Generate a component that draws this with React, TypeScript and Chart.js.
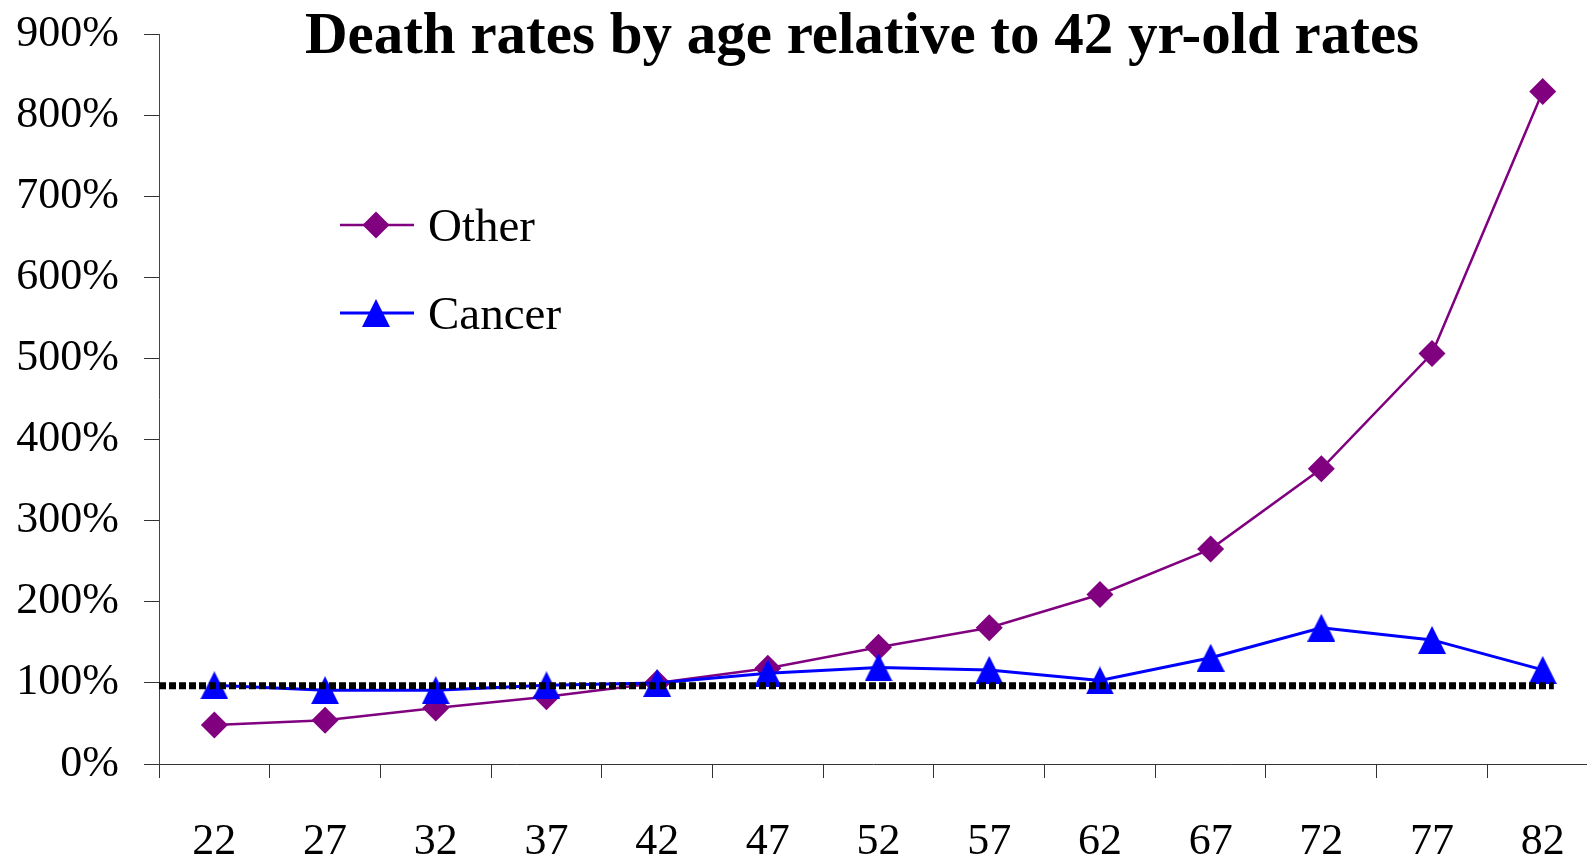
import React, { useEffect, useRef } from "react";
import { Chart, registerables } from "chart.js";

Chart.register(...registerables);

// ---- data ----
const ages = [22, 27, 32, 37, 42, 47, 52, 57, 62, 67, 72, 77, 82];
const otherRates = [48, 54, 69, 83, 100, 118, 144, 168, 209, 265, 364, 506, 829];
const cancerRates = [97, 91, 91, 97, 100, 112, 119, 116, 103, 131, 168, 153, 116];
const referenceLevel = 96.5;
const referenceSpan = [19.5, 82.5];
const yTickValues = [0, 100, 200, 300, 400, 500, 600, 700, 800, 900];
const seriesNames = ["Other", "Cancer"];
const titleText = "Death rates by age relative to 42 yr-old rates";

const FONT = '"Liberation Serif", "Times New Roman", serif';
const PURPLE = "#800080";
const BLUE = "#0000FF";

function makeTriangle(color: string, w: number, h: number): HTMLCanvasElement {
  const c = document.createElement("canvas");
  c.width = w;
  c.height = h;
  const g = c.getContext("2d")!;
  g.fillStyle = color;
  g.beginPath();
  g.moveTo(w / 2, 0);
  g.lineTo(w, h);
  g.lineTo(0, h);
  g.closePath();
  g.fill();
  return c;
}

export default function App() {
  const ref = useRef<HTMLCanvasElement | null>(null);

  useEffect(() => {
    if (!ref.current) return;
    const tri = makeTriangle(BLUE, 28, 28);

    const overlay = {
      id: "overlay",
      afterDraw(chart: any) {
        const ctx = chart.ctx as CanvasRenderingContext2D;
        ctx.save();
        ctx.fillStyle = "#000";
        ctx.font = `bold 59px ${FONT}`;
        ctx.textAlign = "center";
        ctx.textBaseline = "alphabetic";
        ctx.fillText(titleText, 862, 53);

        // legend
        const rows = [225, 313];
        seriesNames.forEach((name, i) => {
          const ds = chart.data.datasets[i];
          const y = rows[i];
          ctx.strokeStyle = ds.borderColor;
          ctx.lineWidth = ds.borderWidth;
          ctx.beginPath();
          ctx.moveTo(340, y);
          ctx.lineTo(414, y);
          ctx.stroke();
          if (i === 0) {
            const r = 13.5;
            ctx.fillStyle = PURPLE;
            ctx.beginPath();
            ctx.moveTo(376 - r, y);
            ctx.lineTo(376, y - r);
            ctx.lineTo(376 + r, y);
            ctx.lineTo(376, y + r);
            ctx.closePath();
            ctx.fill();
          } else {
            ctx.drawImage(tri, 376 - tri.width / 2, y - tri.height / 2);
          }
          ctx.fillStyle = "#000";
          ctx.font = `47px ${FONT}`;
          ctx.textAlign = "left";
          ctx.fillText(name, 428, y + 16);
        });
        ctx.restore();
      },
    };

    const chart = new Chart(ref.current, {
      type: "line",
      data: {
        datasets: [
          {
            label: seriesNames[0],
            data: ages.map((a, i) => ({ x: a, y: otherRates[i] })),
            borderColor: PURPLE,
            backgroundColor: PURPLE,
            borderWidth: 2.5,
            pointStyle: "rectRot",
            pointRadius: 13.5,
            pointBorderWidth: 0,
            pointBackgroundColor: PURPLE,
            tension: 0,
            order: 3,
          },
          {
            label: seriesNames[1],
            data: ages.map((a, i) => ({ x: a, y: cancerRates[i] })),
            borderColor: BLUE,
            backgroundColor: BLUE,
            borderWidth: 3,
            pointStyle: tri,
            pointRadius: 14,
            pointBorderWidth: 0,
            tension: 0,
            order: 2,
          },
          {
            label: "100% reference",
            data: referenceSpan.map((x) => ({ x, y: referenceLevel })),
            borderColor: "#000",
            borderWidth: 7,
            borderDash: [7, 3],
            borderCapStyle: "butt",
            pointRadius: 0,
            order: 1,
          },
        ],
      },
      options: {
        responsive: false,
        animation: false,
        devicePixelRatio: 1,
        layout: { autoPadding: false, padding: { top: 34, left: 0, right: 0, bottom: 0 } },
        plugins: {
          legend: { display: false },
          title: { display: false },
          tooltip: { enabled: false },
        },
        scales: {
          x: {
            type: "linear",
            min: 19.5,
            max: 84,
            afterBuildTicks: (scale: any) => {
              scale.ticks = ages.map((v) => ({ value: v }));
            },
            afterFit: (scale: any) => {
              scale.height = 97;
              scale.paddingLeft = 0;
              scale.paddingRight = 0;
            },
            border: { display: true, color: "#333", width: 1 },
            grid: {
              offset: true,
              drawOnChartArea: false,
              drawTicks: true,
              tickLength: 14,
              color: "#333",
              lineWidth: 1,
            },
            ticks: {
              color: "#000",
              font: { family: FONT, size: 44 },
              padding: 38,
              maxRotation: 0,
              autoSkip: false,
            },
          },
          y: {
            type: "linear",
            min: 0,
            max: 900,
            afterBuildTicks: (scale: any) => {
              scale.ticks = yTickValues.map((v) => ({ value: v }));
            },
            afterFit: (scale: any) => {
              scale.width = 159;
              scale.paddingTop = 0;
              scale.paddingBottom = 0;
            },
            border: { display: true, color: "#444", width: 1 },
            grid: {
              drawOnChartArea: false,
              drawTicks: true,
              tickLength: 15,
              color: "#333",
              lineWidth: 1,
            },
            ticks: {
              color: "#000",
              font: { family: FONT, size: 44 },
              padding: 25,
              callback: (v: any) => `${v}%`,
            },
          },
        },
      },
      plugins: [overlay],
    } as any);

    return () => chart.destroy();
  }, []);

  return (
    <div
      style={{
        position: "fixed",
        left: 0,
        top: 0,
        width: 1587,
        height: 861,
        overflow: "hidden",
        background: "#fff",
      }}
    >
      <canvas ref={ref} width={1587} height={861} style={{ display: "block" }} />
    </div>
  );
}
